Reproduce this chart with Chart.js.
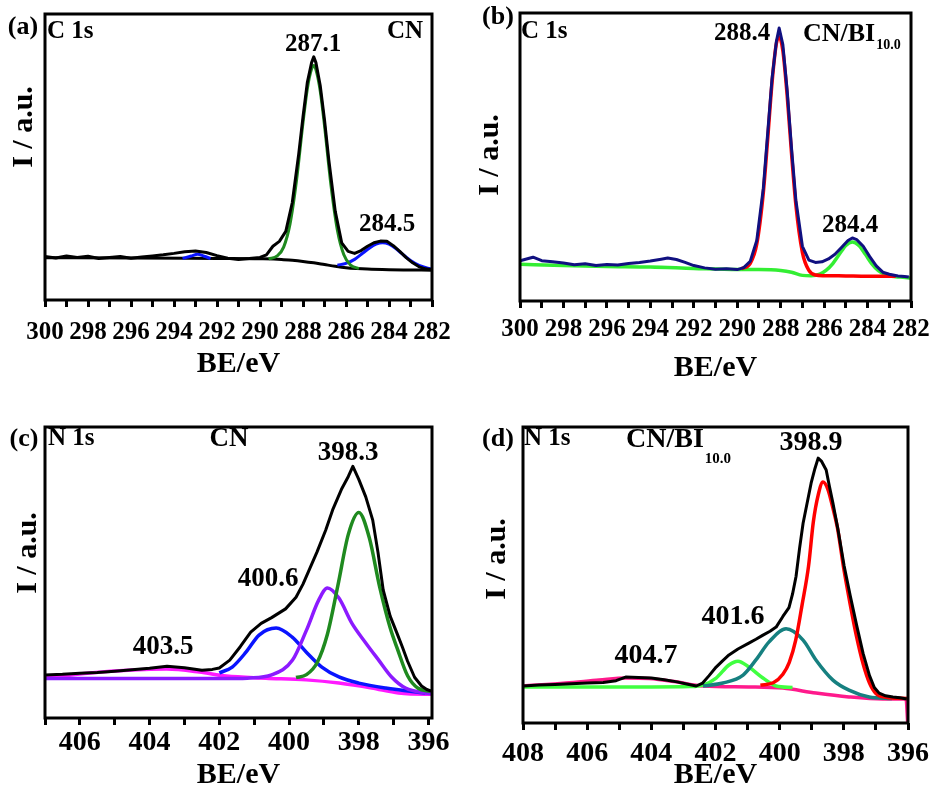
<!DOCTYPE html>
<html lang="en">
<head>
  <meta charset="UTF-8">
  <title>XPS C 1s / N 1s spectra</title>
  <script src="https://cdn.jsdelivr.net/npm/chart.js@4.4.0/dist/chart.umd.min.js"></script>
  <style>
    body { margin: 0; background: #ffffff; }
    #wrap { position: relative; width: 933px; height: 790px; }
    canvas { position: absolute; }
  </style>
</head>
<body>
  <div id="wrap">
    <canvas id="panelA" width="466" height="395" style="left:0;top:0"></canvas>
    <canvas id="panelB" width="467" height="395" style="left:466px;top:0"></canvas>
    <canvas id="panelC" width="466" height="395" style="left:0;top:395px"></canvas>
    <canvas id="panelD" width="467" height="395" style="left:466px;top:395px"></canvas>
  </div>

  <script>
    // ---- (a) C 1s, CN ----
    const aRawEV = [300, 299.5, 299, 298.5, 298, 297.5, 297, 296.5, 296, 295.5, 295, 294.5, 294, 293.5, 293, 292.5, 292, 291.5, 291, 290.5, 290, 289.7, 289.4, 289.1, 288.8, 288.5, 288.2, 288.0, 287.8, 287.6, 287.5, 287.4, 287.2, 287.0, 286.8, 286.5, 286.2, 285.9, 285.6, 285.3, 285.0, 284.7, 284.4, 284.1, 283.8, 283.5, 283.2, 282.9, 282.6, 282.3, 282.0];
    const aRawI = [15.2, 14.7, 15.4, 14.9, 15.3, 14.5, 14.9, 15.2, 14.6, 15.0, 15.4, 15.8, 16.3, 16.9, 17.1, 16.6, 15.5, 14.6, 14.2, 14.5, 14.9, 15.8, 18.8, 20.5, 24.0, 34.0, 51.0, 64.0, 76.0, 83.0, 85.0, 83.0, 75.0, 63.0, 49.0, 31.0, 20.0, 17.0, 16.3, 17.3, 18.8, 20.0, 20.6, 20.5, 19.0, 17.0, 14.8, 13.0, 11.6, 10.9, 10.6];
    const aPeak1EV = [289.6, 289.2, 288.9, 288.6, 288.3, 288.0, 287.8, 287.6, 287.5, 287.4, 287.2, 287.0, 286.7, 286.4, 286.1, 285.8, 285.4];
    const aPeak1I = [14.4, 15.4, 18.5, 26.7, 41.9, 62.0, 73.8, 80.8, 82.0, 80.6, 73.2, 61.0, 40.2, 24.4, 15.8, 12.3, 11.0];
    const aPeak2EV = [286.4, 286.0, 285.6, 285.2, 284.9, 284.6, 284.3, 284.0, 283.7, 283.4, 283.0, 282.6, 282.2, 282.0];
    const aPeak2I = [12.2, 12.8, 14.2, 16.5, 18.2, 19.5, 20.0, 19.5, 18.1, 16.2, 13.8, 12.1, 11.1, 10.8];
    const aSmallEV = [293.6, 293.2, 292.9, 292.6, 292.3];
    const aSmallI = [14.5, 15.4, 16.0, 15.3, 14.5];
    const aBgEV = [300, 296, 292, 290, 289, 288.5, 288, 287.5, 287, 286.5, 286, 285.5, 285, 284, 283, 282];
    const aBgI = [14.8, 14.7, 14.5, 14.4, 14.2, 13.9, 13.5, 13.0, 12.4, 11.8, 11.3, 11.0, 10.8, 10.6, 10.5, 10.4];

    // ---- (b) C 1s, CN/BI10.0 ----
    const bRawEV = [300, 299.7, 299.4, 299, 298.5, 298, 297.5, 297, 296.5, 296, 295.5, 295, 294.5, 294, 293.5, 293.2, 292.8, 292.4, 292, 291.5, 291, 290.5, 290, 289.7, 289.4, 289.1, 288.8, 288.6, 288.4, 288.2, 288.07, 287.9, 287.7, 287.5, 287.3, 287.0, 286.7, 286.4, 286.1, 285.8, 285.5, 285.2, 284.9, 284.7, 284.5, 284.2, 283.9, 283.6, 283.3, 283.0, 282.6, 282.3, 282.1];
    const bRawI = [14.0, 14.6, 15.2, 14.0, 13.6, 13.2, 12.6, 12.9, 12.3, 12.7, 12.5, 13.0, 13.4, 13.9, 14.5, 14.9, 14.4, 13.4, 12.3, 11.5, 11.0, 11.2, 10.9, 11.6, 13.8, 21.0, 39.0, 58.0, 77.0, 90.0, 94.8, 89.0, 73.0, 53.0, 35.0, 19.0, 14.2, 13.4, 13.6, 14.6, 16.2, 18.6, 21.0, 21.9, 21.3, 19.0, 15.4, 12.2, 10.0, 9.3, 8.7, 8.5, 8.3];
    const bPeak1EV = [289.8, 289.4, 289.1, 288.8, 288.6, 288.4, 288.2, 288.07, 287.9, 287.7, 287.5, 287.3, 287.0, 286.7, 286.4, 286.0, 285.0, 284.0, 283.0, 282.7];
    const bPeak1I = [11.2, 13.1, 19.8, 37.5, 56.0, 75.6, 89.3, 91.7, 87.0, 71.3, 51.3, 33.4, 16.9, 10.6, 9.0, 8.8, 8.7, 8.6, 8.6, 8.6];
    const bPeak2EV = [300, 298, 296, 294, 292, 290, 289, 288, 287.5, 287.0, 286.6, 286.2, 285.9, 285.6, 285.3, 285.0, 284.7, 284.4, 284.1, 283.8, 283.5, 283.2, 282.9, 282.5, 282.0];
    const bPeak2I = [12.8, 12.3, 12.0, 11.8, 11.3, 10.9, 10.9, 10.6, 10.0, 8.9, 8.8, 9.3, 10.7, 13.0, 16.2, 19.3, 20.5, 19.3, 16.2, 12.9, 10.5, 9.2, 8.6, 8.3, 8.0];

    // ---- (c) N 1s, CN ----
    const cRawEV = [407, 406.5, 406, 405.5, 405, 404.5, 404, 403.5, 403, 402.5, 402.2, 402, 401.7, 401.4, 401.1, 400.8, 400.5, 400.1, 399.8, 399.6, 399.4, 399.2, 398.95, 398.75, 398.5, 398.3, 398.17, 398.0, 397.8, 397.6, 397.45, 397.3, 397.1, 396.9, 396.75, 396.6, 396.4, 396.2, 396.05, 395.9];
    const cRawI = [14.8, 15.0, 15.4, 15.6, 16.1, 16.6, 17.1, 17.8, 17.3, 16.4, 16.7, 17.2, 19.9, 24.5, 29.5, 32.5, 34.5, 37.5, 41.5, 46.0, 51.5, 57.0, 64.5, 71.5, 78.5, 83.0, 86.5, 82.0, 76.0, 68.0, 57.0, 44.0, 35.0, 29.0, 24.4, 19.5, 14.0, 11.0, 9.8, 9.2];
    const cPeak1EV = [399.8, 399.5, 399.2, 398.9, 398.6, 398.3, 398.0, 397.7, 397.4, 397.1, 396.9, 396.6, 396.3, 395.95];
    const cPeak1I = [13.9, 14.9, 18.9, 28.8, 45.5, 63.1, 70.6, 62.0, 45.0, 31.0, 24.0, 14.5, 10.2, 9.2];
    const cPeak2EV = [407, 405, 403, 401.5, 401.2, 400.5, 399.9, 399.5, 399.15, 398.9, 398.57, 398.2, 397.8, 397.43, 397.06, 396.66, 396.09, 395.9];
    const cPeak2I = [13.6, 13.6, 13.6, 13.6, 13.7, 14.8, 19.9, 30.2, 40.5, 44.7, 41.2, 32.6, 25.8, 19.9, 14.1, 10.3, 8.6, 8.4];
    const cPeak3EV = [402.0, 401.63, 401.23, 400.86, 400.37, 399.91, 399.51, 399.06, 398.57, 398.0, 397.23, 396.09];
    const cPeak3I = [15.5, 17.5, 22.7, 28.5, 30.9, 27.8, 22.7, 17.5, 14.1, 12.0, 10.3, 8.6];
    const cPeak4EV = [407, 405.71, 404.49, 403.51, 402.57, 401.8, 400.66, 399.51, 398.57, 397.63, 396.86, 396.06, 395.9];
    const cPeak4I = [13.7, 15.5, 16.5, 16.8, 15.8, 14.4, 13.7, 13.1, 12.0, 10.3, 8.6, 8.2, 8.2];

    // ---- (d) N 1s, CN/BI10.0 ----
    const dRawEV = [408, 407.5, 407, 406.5, 406, 405.5, 405.1, 404.8, 404.4, 404.0, 403.6, 403.2, 402.9, 402.6, 402.4, 402.2, 401.98, 401.78, 401.58, 401.3, 400.96, 400.74, 400.52, 400.3, 400.11, 399.9, 399.71, 399.6, 399.49, 399.38, 399.27, 399.15, 399.02, 398.9, 398.8, 398.7, 398.55, 398.45, 398.34, 398.18, 397.99, 397.8, 397.6, 397.4, 397.2, 397.05, 396.9, 396.7, 396.47, 396.25, 396.04];
    const dRawI = [12.5, 12.8, 13.0, 13.3, 13.5, 13.7, 14.3, 15.5, 15.4, 15.2, 14.6, 13.9, 13.2, 12.5, 13.5, 16.0, 18.9, 21.0, 23.0, 25.0, 27.0, 28.3, 29.7, 31.0, 32.4, 36.0, 39.0, 43.5, 49.5, 59.0, 67.5, 74.0, 81.0, 86.0, 89.5, 88.5, 85.5, 80.0, 74.3, 65.2, 53.0, 43.0, 33.0, 23.5, 16.0, 12.0, 10.1, 9.2, 8.8, 8.5, 8.1];
    const dPeak1EV = [400.6, 400.2, 399.9, 399.7, 399.5, 399.3, 399.1, 398.95, 398.8, 398.65, 398.5, 398.35, 398.2, 398.0, 397.8, 397.6, 397.4, 397.2, 397.0, 396.7, 396.0];
    const dPeak1I = [12.8, 13.6, 16.5, 20.5, 28.0, 40.0, 53.0, 68.0, 77.0, 81.4, 79.0, 73.0, 66.0, 52.0, 40.0, 29.0, 20.0, 13.5, 10.0, 8.7, 8.3];
    const dPeak2EV = [402.39, 401.77, 401.14, 400.74, 400.33, 399.8, 399.27, 398.87, 398.34, 397.84, 397.21, 396.5];
    const dPeak2I = [12.5, 13.5, 16.2, 21.3, 27.4, 31.8, 28.0, 21.3, 14.5, 11.1, 8.8, 8.3];
    const dPeak3EV = [408, 406, 404, 402.8, 402.39, 401.98, 401.58, 401.3, 400.96, 400.52, 400.11, 399.6];
    const dPeak3I = [12.2, 12.2, 12.2, 12.3, 12.8, 15.2, 19.6, 20.9, 18.9, 15.2, 12.5, 12.0];
    const dPeak4EV = [408, 406.66, 405.63, 404.79, 404.07, 403.23, 402.39, 400.96, 399.9, 398.87, 397.84, 396.78, 396.06, 396.01];
    const dPeak4I = [12.5, 13.5, 14.5, 15.2, 15.0, 13.9, 12.5, 12.2, 11.8, 10.1, 8.8, 8.1, 8.1, 0];

    const FONT = "'Liberation Serif', 'Times New Roman', serif";
    Chart.defaults.font.family = FONT;
    Chart.defaults.font.weight = 'bold';
    Chart.defaults.color = '#000';

    // frame, in-plot labels and rotated y title
    const panelDeco = {
      id: 'panelDeco',
      afterDatasetsDraw(chart, args, opts) {
        const { ctx, chartArea: a } = chart;
        ctx.save();
        ctx.strokeStyle = '#000';
        ctx.lineWidth = 3;
        ctx.strokeRect(a.left, a.top, a.right - a.left, a.bottom - a.top);
        ctx.fillStyle = '#000';
        ctx.textBaseline = 'middle';
        (opts.labels || []).forEach(l => {
          ctx.font = 'bold ' + l.size + 'px ' + FONT;
          ctx.textAlign = l.align || 'center';
          ctx.fillText(l.text, l.x, l.y);
          if (l.sub) {
            const w = ctx.measureText(l.text).width;
            ctx.font = 'bold ' + l.subSize + 'px ' + FONT;
            ctx.textAlign = 'left';
            ctx.fillText(l.sub, l.x + w + 1, l.y + l.subDy);
          }
        });
        if (opts.yTitle) {
          ctx.translate(opts.yTitle.x, opts.yTitle.y);
          ctx.rotate(-Math.PI / 2);
          ctx.font = 'bold 30px ' + FONT;
          ctx.textAlign = 'center';
          ctx.fillText(opts.yTitle.text, 0, 0);
        }
        ctx.restore();
      }
    };
    Chart.register(panelDeco);

    function series(xs, ys, color, width, smooth) {
      return {
        data: xs.map((x, i) => ({ x: x, y: ys[i] })),
        borderColor: color,
        borderWidth: width,
        pointRadius: 0,
        fill: false,
        tension: 0,
        borderJoinStyle: 'round',
        cubicInterpolationMode: smooth ? 'monotone' : 'default'
      };
    }

    function panel(id, p) {
      return new Chart(document.getElementById(id), {
        type: 'line',
        data: { datasets: p.datasets },
        options: {
          responsive: false,
          animation: false,
          events: [],
          layout: { padding: p.padding },
          plugins: {
            legend: { display: false },
            tooltip: { enabled: false },
            panelDeco: { labels: p.labels, yTitle: p.yTitle }
          },
          scales: {
            x: {
              type: 'linear',
              reverse: true,
              min: p.xMin,
              max: p.xMax,
              afterFit: s => { s.height = p.axisHeight; },
              // one tick per whole eV, labels on the even ones
              afterBuildTicks: s => {
                const ticks = [];
                for (let v = Math.ceil(s.min); v <= Math.floor(s.max); v++) ticks.push({ value: v });
                s.ticks = ticks;
              },
              ticks: {
                autoSkip: false,
                maxRotation: 0,
                minRotation: 0,
                padding: p.tickPad,
                font: { size: p.tickSize },
                callback: v => (v % 2 === 0 ? String(v) : '')
              },
              grid: { drawOnChartArea: false, drawTicks: true, tickLength: 7, tickWidth: 3, tickColor: '#000' },
              border: { display: false },
              title: {
                display: true,
                text: 'BE/eV',
                font: { size: 30, lineHeight: 1 },
                padding: { top: 0, bottom: p.titlePad }
              }
            },
            y: { display: false, min: 0, max: 100 }
          }
        }
      });
    }

    panel('panelA', {
      xMin: 282, xMax: 300,
      padding: { left: 45, top: 14, right: 34, bottom: 0 },
      axisHeight: 95, tickSize: 25, tickPad: 11, titlePad: 16,
      datasets: [
        series(aRawEV, aRawI, '#000000', 3, false),
        series(aSmallEV, aSmallI, '#0a14ff', 3, true),
        series(aPeak1EV, aPeak1I, '#1f8a1f', 3, true),
        series(aPeak2EV, aPeak2I, '#0a14ff', 3, true),
        series(aBgEV, aBgI, '#000000', 3, true)
      ],
      labels: [
        { text: '(a)', x: 23, y: 27, size: 26 },
        { text: 'C 1s', x: 47, y: 32, size: 25, align: 'left' },
        { text: '287.1', x: 313, y: 45, size: 25 },
        { text: 'CN', x: 405, y: 32, size: 25 },
        { text: '284.5', x: 387, y: 225, size: 25 }
      ],
      yTitle: { text: 'I / a.u.', x: 24, y: 127 }
    });

    panel('panelB', {
      xMin: 282, xMax: 300,
      padding: { left: 54, top: 13, right: 22, bottom: 0 },
      axisHeight: 94, tickSize: 25, tickPad: 7, titlePad: 12,
      datasets: [
        series(bRawEV, bRawI, '#101080', 3, false),
        series(bPeak1EV, bPeak1I, '#ff0000', 3.5, true),
        series(bPeak2EV, bPeak2I, '#33ee33', 3.5, true)
      ],
      labels: [
        { text: '(b)', x: 32, y: 17, size: 26 },
        { text: 'C 1s', x: 55, y: 32, size: 25, align: 'left' },
        { text: '288.4', x: 276, y: 34, size: 25 },
        { text: 'CN/BI', x: 337, y: 34, size: 26, align: 'left', sub: '10.0', subSize: 14, subDy: 11 },
        { text: '284.4', x: 384, y: 226, size: 25 }
      ],
      yTitle: { text: 'I / a.u.', x: 24, y: 155 }
    });

    panel('panelC', {
      xMin: 395.9, xMax: 407,
      padding: { left: 45, top: 32, right: 34, bottom: 0 },
      axisHeight: 72, tickSize: 28, tickPad: 1, titlePad: 0,
      datasets: [
        series(cRawEV, cRawI, '#000000', 3, false),
        series(cPeak1EV, cPeak1I, '#1f8a1f', 3.5, true),
        series(cPeak2EV, cPeak2I, '#8c1aff', 3.5, true),
        series(cPeak3EV, cPeak3I, '#0a14ff', 3.5, true),
        series(cPeak4EV, cPeak4I, '#ff1aff', 3.5, true)
      ],
      labels: [
        { text: '(c)', x: 24, y: 44, size: 26 },
        { text: 'N 1s', x: 48, y: 44, size: 25, align: 'left' },
        { text: 'CN', x: 229, y: 44, size: 27 },
        { text: '398.3', x: 348, y: 58, size: 27 },
        { text: '400.6', x: 268, y: 184, size: 27 },
        { text: '403.5', x: 163, y: 252, size: 27 }
      ],
      yTitle: { text: 'I / a.u.', x: 28, y: 158 }
    });

    panel('panelD', {
      xMin: 396, xMax: 408,
      padding: { left: 57, top: 32, right: 25, bottom: 0 },
      axisHeight: 67, tickSize: 28, tickPad: 7, titlePad: 0,
      datasets: [
        series(dRawEV, dRawI, '#000000', 3, false),
        series(dPeak1EV, dPeak1I, '#ff0000', 3.5, true),
        series(dPeak2EV, dPeak2I, '#168080', 3.5, true),
        series(dPeak3EV, dPeak3I, '#40ff40', 3.5, true),
        series(dPeak4EV, dPeak4I, '#ff1a8c', 3.5, true)
      ],
      labels: [
        { text: '(d)', x: 32, y: 44, size: 26 },
        { text: 'N 1s', x: 58, y: 44, size: 25, align: 'left' },
        { text: 'CN/BI', x: 160, y: 45, size: 28, align: 'left', sub: '10.0', subSize: 15, subDy: 19 },
        { text: '398.9', x: 345, y: 48, size: 28 },
        { text: '401.6', x: 267, y: 222, size: 28 },
        { text: '404.7', x: 180, y: 261, size: 28 }
      ],
      yTitle: { text: 'I / a.u.', x: 31, y: 164 }
    });
  </script>
</body>
</html>
